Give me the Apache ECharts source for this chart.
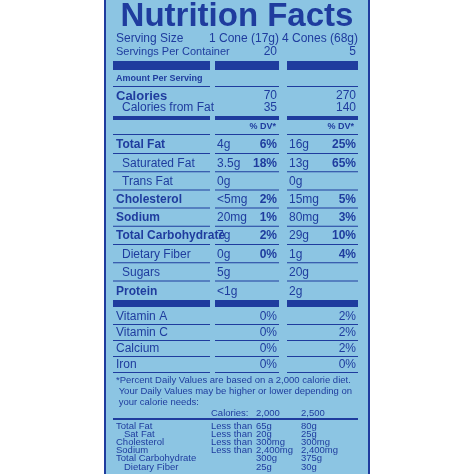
<!DOCTYPE html>
<html><head><meta charset="utf-8">
<script src="https://cdn.jsdelivr.net/npm/echarts@6/dist/echarts.min.js"></script>
<style>html,body{margin:0;background:#fff}#c{width:474px;height:474px}</style>
</head><body><div id="c"></div>
<script>
var servingCols = ['1 Cone (17g)', '4 Cones (68g)'];
var servingsPer = ['20', '5'];
var calories = ['70', '270'];
var calFromFat = ['35', '140'];
var nutrientNames = ['Total Fat', 'Saturated Fat', 'Trans Fat', 'Cholesterol', 'Sodium', 'Total Carbohydrate', 'Dietary Fiber', 'Sugars', 'Protein'];
var nutrientBold = [true, false, false, true, true, true, false, false, true];
var amount1 = ['4g', '3.5g', '0g', '<5mg', '20mg', '7g', '0g', '5g', '<1g'];
var dv1 = ['6%', '18%', '', '2%', '1%', '2%', '0%', '', ''];
var amount2 = ['16g', '13g', '0g', '15mg', '80mg', '29g', '1g', '20g', '2g'];
var dv2 = ['25%', '65%', '', '5%', '3%', '10%', '4%', '', ''];
var vitaminNames = ['Vitamin A', 'Vitamin C', 'Calcium', 'Iron'];
var vitamin1 = ['0%', '0%', '0%', '0%'];
var vitamin2 = ['2%', '2%', '2%', '0%'];
var footnote = ['*Percent Daily Values are based on a 2,000 calorie diet.', ' Your Daily Values may be higher or lower depending on', ' your calorie needs:'];
var dvHeader = ['Calories:', '2,000', '2,500'];
var dvNames = ['Total Fat', '  Sat Fat', 'Cholesterol', 'Sodium', 'Total Carbohydrate', '  Dietary Fiber'];
var dvLimit = ['Less than', 'Less than', 'Less than', 'Less than', '', ''];
var dv2000 = ['65g', '20g', '300mg', '2,400mg', '300g', '25g'];
var dv2500 = ['80g', '25g', '300mg', '2,400mg', '375g', '30g'];

var DARK = '#1f3c9e', BG = '#8cc5e3';
var F = 'Liberation Sans, Arial, sans-serif';
var cols = [[113, 210], [215, 279], [287, 358]];
var g = [];
function txt(x, y, s, o) {
  o = o || {};
  g.push({ type: 'text', x: x, y: y, style: { text: s, fill: DARK, font: (o.bold ? 'bold ' : '') + (o.size || 12) + 'px ' + F, textAlign: o.align || 'left', textVerticalAlign: 'middle' } });
}
function bar(y, h) {
  cols.forEach(function (c) { g.push({ type: 'rect', shape: { x: c[0], y: y, width: c[1] - c[0], height: h }, style: { fill: DARK } }); });
}
g.push({ type: 'rect', shape: { x: 105, y: -2, width: 264, height: 478 }, style: { fill: BG, stroke: DARK, lineWidth: 2 } });
txt(237, 17, 'Nutrition Facts', { bold: true, size: 33, align: 'center' });
txt(116, 39, 'Serving Size', { size: 12 });
txt(279, 39, servingCols[0], { align: 'right' });
txt(358, 39, servingCols[1], { align: 'right' });
txt(116, 52, 'Servings Per Container', { size: 11 });
txt(277, 52, servingsPer[0], { align: 'right' });
txt(356, 52, servingsPer[1], { align: 'right' });
bar(61, 9);
txt(116, 79, 'Amount Per Serving', { bold: true, size: 9 });
bar(86, 1);
txt(116, 96, 'Calories', { bold: true, size: 13 });
txt(277, 96, calories[0], { align: 'right' });
txt(356, 96, calories[1], { align: 'right' });
txt(122, 108, 'Calories from Fat', { size: 12 });
txt(277, 108, calFromFat[0], { align: 'right' });
txt(356, 108, calFromFat[1], { align: 'right' });
bar(116, 4);
txt(276, 127, '% DV*', { bold: true, size: 9, align: 'right' });
txt(354, 127, '% DV*', { bold: true, size: 9, align: 'right' });
bar(134, 1);
var y0 = 145, step = 18.2;
nutrientNames.forEach(function (n, i) {
  var y = y0 + i * step + (i === 8 ? 1 : 0);
  var b = nutrientBold[i];
  txt(b ? 116 : 122, y, n, { bold: b, size: 12 });
  txt(217, y, amount1[i]);
  txt(277, y, dv1[i], { bold: true, align: 'right' });
  txt(289, y, amount2[i]);
  txt(356, y, dv2[i], { bold: true, align: 'right' });
  if (i < 8) bar(y + 8, 1);
});
bar(300, 7);
vitaminNames.forEach(function (n, i) {
  var y = 317 + i * 16;
  txt(116, y, n, { size: 12 });
  txt(277, y, vitamin1[i], { align: 'right' });
  txt(356, y, vitamin2[i], { align: 'right' });
  bar(y + 7, 1);
});
footnote.forEach(function (s, i) { txt(116, 380 + i * 11, s, { size: 9.5 }); });
txt(211, 413, dvHeader[0], { size: 9.5 });
txt(256, 413, dvHeader[1], { size: 9.5 });
txt(301, 413, dvHeader[2], { size: 9.5 });
g.push({ type: 'rect', shape: { x: 113, y: 418, width: 245, height: 2 }, style: { fill: DARK } });
dvNames.forEach(function (n, i) {
  var y = 426 + i * 8.2;
  txt(116, y, n.replace(/^  /, ''), { size: 9.5 });
  if (n.indexOf('  ') === 0) g[g.length - 1].x = 124;
  txt(211, y, dvLimit[i], { size: 9.5 });
  txt(256, y, dv2000[i], { size: 9.5 });
  txt(301, y, dv2500[i], { size: 9.5 });
});

var chart = echarts.init(document.getElementById('c'), null, { renderer: 'canvas' });
chart.setOption({ animation: false, graphic: g });
</script></body></html>
